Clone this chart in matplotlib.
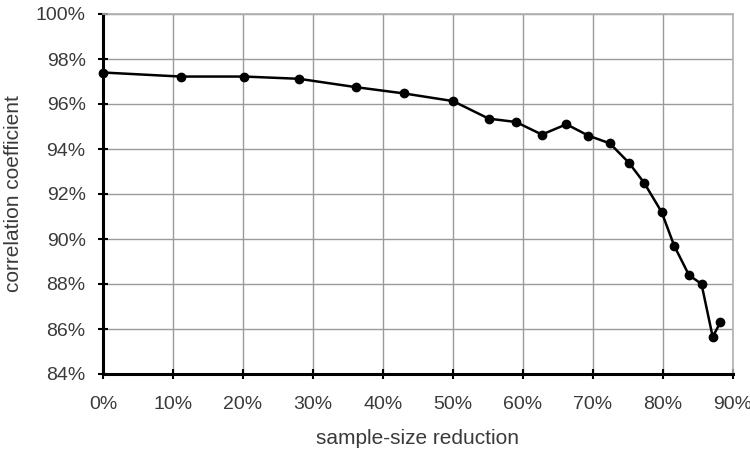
import matplotlib
matplotlib.use("Agg")
import matplotlib.pyplot as plt
from matplotlib.ticker import FuncFormatter, MultipleLocator

plt.rcParams['font.family'] = ['Liberation Sans', 'DejaVu Sans']

reduction = [0.0, 11.1, 20.2, 28.0, 36.1, 43.0, 50.0, 55.1, 59.0, 62.7, 66.2,
             69.3, 72.4, 75.1, 77.3, 79.8, 81.6, 83.7, 85.5, 87.1, 88.2]
correlation = [97.4, 97.22, 97.22, 97.12, 96.75, 96.47, 96.13, 95.35, 95.2, 94.64, 95.1,
               94.6, 94.25, 93.4, 92.5, 91.2, 89.7, 88.4, 88.0, 85.65, 86.3]

xlabel = "sample-size reduction"
ylabel = "correlation coefficient"

fig = plt.figure(figsize=(7.5, 4.53), dpi=100)
ax = fig.add_axes([103/750, 1 - 374/453, (733 - 103)/750, (374 - 14)/453])

ax.plot(reduction, correlation, color='black', lw=1.8, marker='o', ms=6,
        markerfacecolor='black', markeredgecolor='black', zorder=3, clip_on=False)

ax.set_xlim(0, 90)
ax.set_ylim(84, 100)
ax.xaxis.set_major_locator(MultipleLocator(10))
ax.yaxis.set_major_locator(MultipleLocator(2))
ax.xaxis.set_major_formatter(FuncFormatter(lambda v, p: f"{v:.0f}%"))
ax.yaxis.set_major_formatter(FuncFormatter(lambda v, p: f"{v:.0f}%"))

ax.grid(True, color='#9a9a9a', lw=1.0)
ax.set_axisbelow(True)

for s in ['top', 'right']:
    ax.spines[s].set_color('#b0b0b0')
    ax.spines[s].set_linewidth(1.2)
for s in ['left', 'bottom']:
    ax.spines[s].set_color('black')
    ax.spines[s].set_linewidth(2.2)

ax.tick_params(axis='both', direction='inout', length=7, width=1.5, color='black',
               labelsize=14, labelcolor='#3a3a3a')
ax.tick_params(axis='y', pad=9)
ax.tick_params(axis='x', pad=12)

ax.set_xlabel(xlabel, fontsize=15, color='#3a3a3a', labelpad=12)
ax.set_ylabel(ylabel, fontsize=15, color='#3a3a3a', labelpad=9)

fig.savefig("out.png", dpi=100)
